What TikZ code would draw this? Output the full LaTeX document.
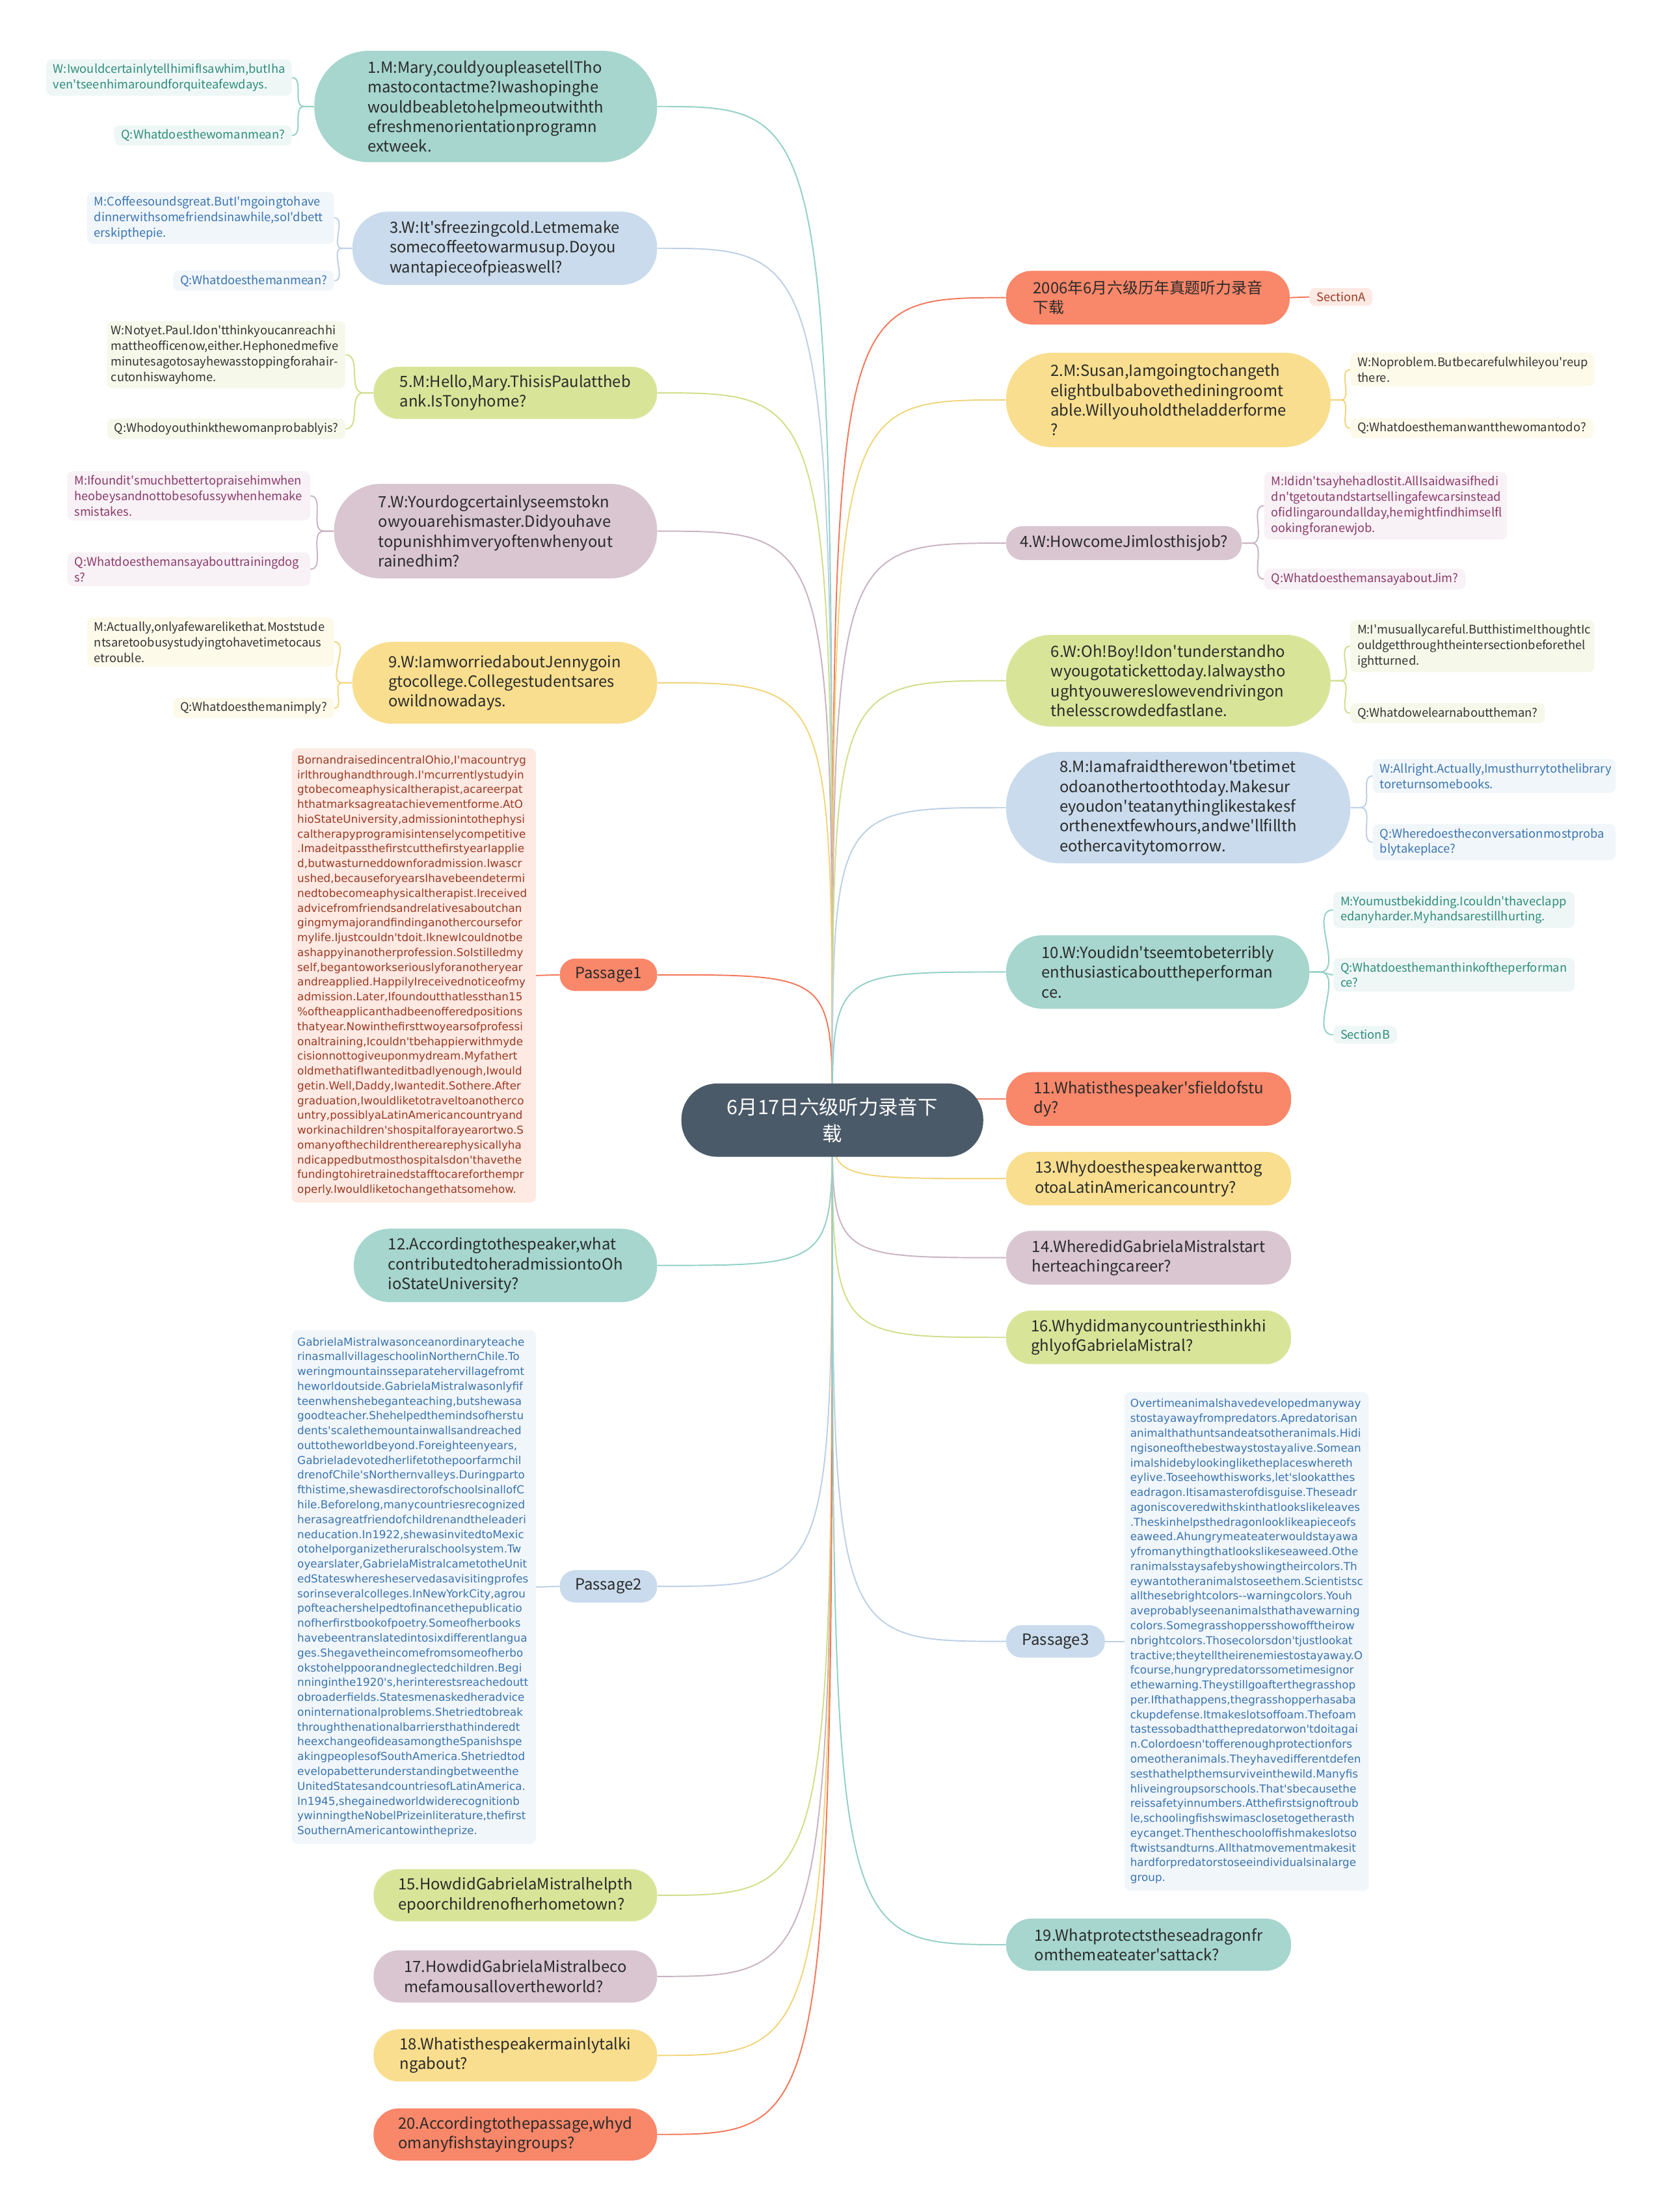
\documentclass[tikz,border=0pt]{standalone}
\usepackage{fontspec}
\setmainfont{Noto Sans CJK SC}[Ligatures=TeXOff]
\newfontfamily\passfont{DejaVu Sans}[Ligatures=TeXOff]
\usetikzlibrary{backgrounds,calc}

% node fills
\definecolor{cTeal}{HTML}{A6D6CE}
\definecolor{cBlue}{HTML}{C9DBEC}
\definecolor{cGreen}{HTML}{D8E599}
\definecolor{cMauve}{HTML}{D9C6D1}
\definecolor{cYellow}{HTML}{F8DE8E}
\definecolor{cOrange}{HTML}{F9876A}
\definecolor{cHub}{HTML}{4B5A68}
\definecolor{txtMain}{HTML}{2A2A2A}
% leaf boxes: text / background
\definecolor{tTeal}{HTML}{2E8B7C}\definecolor{bTeal}{HTML}{EEF7F6}
\definecolor{tBlue}{HTML}{3A74AF}\definecolor{bBlue}{HTML}{F1F6FB}
\definecolor{tGreen}{HTML}{333333}\definecolor{bGreen}{HTML}{F6F9EA}
\definecolor{tMauve}{HTML}{8A3A6B}\definecolor{bMauve}{HTML}{F8F1F5}
\definecolor{tYellow}{HTML}{333333}\definecolor{bYellow}{HTML}{FEFAEA}
\definecolor{tOrange}{HTML}{9B3A22}\definecolor{bOrange}{HTML}{FEE9E3}
% connector colours
\definecolor{lTeal}{HTML}{93D0C6}
\definecolor{lBlue}{HTML}{BCD0E5}
\definecolor{lGreen}{HTML}{CFDF8A}
\definecolor{lMauve}{HTML}{C9B3C1}
\definecolor{lYellow}{HTML}{F1D57A}
\definecolor{lOrange}{HTML}{F4785A}

\begin{document}
\begin{tikzpicture}[
  x=1pt, y=-1pt,
  sz/.style 2 args={minimum width=#1, minimum height=#2},
  hubbox/.style={fill=cHub, text=white, rounded corners=25.5pt, align=center,
                 font=\fontsize{14}{19}\selectfont, inner sep=0pt},
  mainbox/.style={rounded corners=18pt, align=left, text=txtMain,
                  font=\fontsize{11}{14}\selectfont, inner sep=0pt},
  leaf/.style={rounded corners=4pt, align=left, inner xsep=5pt, inner ysep=3pt,
               font=\fontsize{8.4}{11}\selectfont},
  passbox/.style={leaf, inner xsep=4pt, inner ysep=5pt,
                  font=\passfont\fontsize{7.75}{10.5}\selectfont},
  lnk/.style={line width=0.9pt}
]
\useasboundingbox (0,0) rectangle (1180,1568);

% hub
\node[hubbox, sz={214}{52}] (hub) at (590,794) {6月17日六级听力录音下\\载};

% left branch
\node[mainbox, sz={243}{79}, rounded corners=39pt, fill=cTeal, anchor=east] (q1) at (466,75.5)
  {1.M:Mary,couldyoupleasetellTho\\mastocontactme?Iwashopinghe\\wouldbeabletohelpmeoutwithth\\efreshmenorientationprogramn\\extweek.};
\node[mainbox, sz={216}{52}, rounded corners=25.5pt, fill=cBlue, anchor=east] (q3) at (466,176)
  {3.W:It'sfreezingcold.Letmemake\\somecoffeetowarmusup.Doyou\\wantapieceofpieaswell?};
\node[mainbox, sz={201}{37}, fill=cGreen, anchor=east] (q5) at (466,278.5)
  {5.M:Hello,Mary.ThisisPaulattheb\\ank.IsTonyhome?};
\node[mainbox, sz={229}{67}, rounded corners=33pt, fill=cMauve, anchor=east] (q7) at (466,376.5)
  {7.W:Yourdogcertainlyseemstokn\\owyouarehismaster.Didyouhave\\topunishhimveryoftenwhenyout\\rainedhim?};
\node[mainbox, sz={216}{58}, rounded corners=28.5pt, fill=cYellow, anchor=east] (q9) at (466,484)
  {9.W:IamworriedaboutJennygoin\\gtocollege.Collegestudentsares\\owildnowadays.};
\node[mainbox, sz={69}{23}, rounded corners=11pt, fill=cOrange, anchor=east] (pass1) at (466,691) {Passage1};
\node[mainbox, sz={215}{52}, rounded corners=25.5pt, fill=cTeal, anchor=east] (q12) at (466,897)
  {12.Accordingtothespeaker,what\\contributedtoheradmissiontoOh\\ioStateUniversity?};
\node[mainbox, sz={69}{23}, rounded corners=11pt, fill=cBlue, anchor=east] (pass2) at (466,1124.5) {Passage2};
\node[mainbox, sz={201}{37}, fill=cGreen, anchor=east] (q15) at (466,1343.5)
  {15.HowdidGabrielaMistralhelpth\\epoorchildrenofherhometown?};
\node[mainbox, sz={201}{37}, fill=cMauve, anchor=east] (q17) at (466,1401)
  {17.HowdidGabrielaMistralbeco\\mefamousallovertheworld?};
\node[mainbox, sz={201}{37}, fill=cYellow, anchor=east] (q18) at (466,1457)
  {18.Whatisthespeakermainlytalki\\ngabout?};
\node[mainbox, sz={201}{37}, fill=cOrange, anchor=east] (q20) at (466,1513)
  {20.Accordingtothepassage,whyd\\omanyfishstayingroups?};

% right branch
\node[mainbox, sz={201}{38}, fill=cOrange, anchor=west] (q0) at (713,211)
  {2006年6月六级历年真题听力录音\\下载};
\node[mainbox, sz={230}{67}, rounded corners=33pt, fill=cYellow, anchor=west] (q2) at (713,283.5)
  {2.M:Susan,Iamgoingtochangeth\\elightbulbabovethediningroomt\\able.Willyouholdtheladderforme\\?};
\node[mainbox, sz={167}{24}, rounded corners=11.5pt, fill=cMauve, anchor=west] (q4) at (713,385)
  {4.W:HowcomeJimlosthisjob?};
\node[mainbox, sz={230}{65}, rounded corners=32pt, fill=cGreen, anchor=west] (q6) at (713,482.5)
  {6.W:Oh!Boy!Idon'tunderstandho\\wyougotatickettoday.Ialwaystho\\ughtyouwereslowevendrivingon\\thelesscrowdedfastlane.};
\node[mainbox, sz={244}{79}, rounded corners=39pt, fill=cBlue, anchor=west] (q8) at (713,572.5)
  {8.M:Iamafraidtherewon'tbetimet\\odoanothertoothtoday.Makesur\\eyoudon'teatanythinglikestakesf\\orthenextfewhours,andwe'llfillth\\eothercavitytomorrow.};
\node[mainbox, sz={215}{52}, rounded corners=25.5pt, fill=cTeal, anchor=west] (q10) at (713,689)
  {10.W:Youdidn'tseemtobeterribly\\enthusiasticabouttheperforman\\ce.};
\node[mainbox, sz={202}{38}, fill=cOrange, anchor=west] (q11) at (713,779)
  {11.Whatisthespeaker'sfieldofstu\\dy?};
\node[mainbox, sz={202}{38}, fill=cYellow, anchor=west] (q13) at (713,835.5)
  {13.Whydoesthespeakerwanttog\\otoaLatinAmericancountry?};
\node[mainbox, sz={202}{38}, fill=cMauve, anchor=west] (q14) at (713,891.5)
  {14.WheredidGabrielaMistralstart\\herteachingcareer?};
\node[mainbox, sz={202}{38}, fill=cGreen, anchor=west] (q16) at (713,948)
  {16.Whydidmanycountriesthinkhi\\ghlyofGabrielaMistral?};
\node[mainbox, sz={70}{23}, rounded corners=11pt, fill=cBlue, anchor=west] (pass3) at (713,1163.5) {Passage3};
\node[mainbox, sz={202}{37}, fill=cTeal, anchor=west] (q19) at (713,1378.5)
  {19.Whatprotectstheseadragonfr\\omthemeateater'sattack?};

% leaves, left side
\node[leaf, fill=bTeal, text=tTeal, text width=164, anchor=east] (c1a) at (207,55)
  {W:IwouldcertainlytellhimifIsawhim,butIha\\ven'tseenhimaroundforquiteafewdays.};
\node[leaf, fill=bTeal, text=tTeal, anchor=east] (c1b) at (207,96) {Q:Whatdoesthewomanmean?};
\node[leaf, fill=bBlue, text=tBlue, text width=165, anchor=east] (c3a) at (237,154.5)
  {M:Coffeesoundsgreat.ButI'mgoingtohave\\dinnerwithsomefriendsinawhile,soI'dbett\\erskipthepie.};
\node[leaf, fill=bBlue, text=tBlue, anchor=east] (c3b) at (237,199) {Q:Whatdoesthemanmean?};
\node[leaf, fill=bGreen, text=tGreen, text width=163, inner xsep=3pt, anchor=east] (c5a) at (245,251.5)
  {W:Notyet.Paul.Idon'tthinkyoucanreachhi\\mattheofficenow,either.Hephonedmefive\\minutesagotosayhewasstoppingforahair\mbox{-}\\cutonhiswayhome.};
\node[leaf, fill=bGreen, text=tGreen, anchor=east] (c5b) at (245,304) {Q:Whodoyouthinkthewomanprobablyis?};
\node[leaf, fill=bMauve, text=tMauve, text width=162, anchor=east] (c7a) at (220,351.5)
  {M:Ifoundit'smuchbettertopraisehimwhen\\heobeysandnottobesofussywhenhemake\\smistakes.};
\node[leaf, fill=bMauve, text=tMauve, text width=162, anchor=east] (c7b) at (220,403.5)
  {Q:Whatdoesthemansayabouttrainingdog\\s?};
\node[leaf, fill=bYellow, text=tYellow, text width=165, anchor=east] (c9a) at (237,455)
  {M:Actually,onlyafewarelikethat.Moststude\\ntsaretoobusystudyingtohavetimetocaus\\etrouble.};
\node[leaf, fill=bYellow, text=tYellow, anchor=east] (c9b) at (237,502) {Q:Whatdoesthemanimply?};

\node[passbox, fill=bOrange, text=tOrange, text width=165, anchor=east] (p1txt) at (380,691.5)
  {BornandraisedincentralOhio,I'macountryg\\
   irlthroughandthrough.I'mcurrentlystudyin\\
   gtobecomeaphysicaltherapist,acareerpat\\
   hthatmarksagreatachievementforme.AtO\\
   hioStateUniversity,admissionintothephysi\\
   caltherapyprogramisintenselycompetitive\\
   .ImadeitpassthefirstcutthefirstyearIapplie\\
   d,butwasturneddownforadmission.Iwascr\\
   ushed,becauseforyearsIhavebeendetermi\\
   nedtobecomeaphysicaltherapist.Ireceived\\
   advicefromfriendsandrelativesaboutchan\\
   gingmymajorandfindinganothercoursefor\\
   mylife.Ijustcouldn'tdoit.IknewIcouldnotbe\\
   ashappyinanotherprofession.SoIstilledmy\\
   self,begantoworkseriouslyforanotheryear\\
   andreapplied.HappilyIreceivednoticeofmy\\
   admission.Later,Ifoundoutthatlessthan15\\
   \%oftheapplicanthadbeenofferedpositions\\
   thatyear.Nowinthefirsttwoyearsofprofessi\\
   onaltraining,Icouldn'tbehappierwithmyde\\
   cisionnottogiveuponmydream.Myfathert\\
   oldmethatifIwanteditbadlyenough,Iwould\\
   getin.Well,Daddy,Iwantedit.Sothere.After\\
   graduation,Iwouldliketotraveltoanotherco\\
   untry,possiblyaLatinAmericancountryand\\
   workinachildren'shospitalforayearortwo.S\\
   omanyofthechildrentherearephysicallyha\\
   ndicappedbutmosthospitalsdon'thavethe\\
   fundingtohiretrainedstafftocareforthempr\\
   operly.Iwouldliketochangethatsomehow.};

\node[passbox, fill=bBlue, text=tBlue, text width=165, anchor=east] (p2txt) at (380,1125)
  {GabrielaMistralwasonceanordinaryteache\\
   rinasmallvillageschoolinNorthernChile.To\\
   weringmountainsseparatehervillagefromt\\
   heworldoutside.GabrielaMistralwasonlyfif\\
   teenwhenshebeganteaching,butshewasa\\
   goodteacher.Shehelpedthemindsofherstu\\
   dents'scalethemountainwallsandreached\\
   outtotheworldbeyond.Foreighteenyears,\\
   Gabrieladevotedherlifetothepoorfarmchil\\
   drenofChile'sNorthernvalleys.Duringparto\\
   fthistime,shewasdirectorofschoolsinallofC\\
   hile.Beforelong,manycountriesrecognized\\
   herasagreatfriendofchildrenandtheleaderi\\
   neducation.In1922,shewasinvitedtoMexic\\
   otohelporganizetheruralschoolsystem.Tw\\
   oyearslater,GabrielaMistralcametotheUnit\\
   edStateswheresheservedasavisitingprofes\\
   sorinseveralcolleges.InNewYorkCity,agrou\\
   pofteachershelpedtofinancethepublicatio\\
   nofherfirstbookofpoetry.Someofherbooks\\
   havebeentranslatedintosixdifferentlangua\\
   ges.Shegavetheincomefromsomeofherbo\\
   okstohelppoorandneglectedchildren.Begi\\
   nninginthe1920's,herinterestsreachedoutt\\
   obroaderfields.Statesmenaskedheradvice\\
   oninternationalproblems.Shetriedtobreak\\
   throughthenationalbarriersthathinderedt\\
   heexchangeofideasamongtheSpanishspe\\
   akingpeoplesofSouthAmerica.Shetriedtod\\
   evelopabetterunderstandingbetweenthe\\
   UnitedStatesandcountriesofLatinAmerica.\\
   In1945,shegainedworldwiderecognitionb\\
   ywinningtheNobelPrizeinliterature,thefirst\\
   SouthernAmericantowintheprize.};

% leaves, right side
\node[leaf, fill=bOrange, text=tOrange, anchor=west] (secA) at (928,210.5) {SectionA};
\node[leaf, fill=bYellow, text=tYellow, text width=163, anchor=west] (c2a) at (957,262)
  {W:Noproblem.Butbecarefulwhileyou'reup\\there.};
\node[leaf, fill=bYellow, text=tYellow, anchor=west] (c2b) at (957,303.5) {Q:Whatdoesthemanwantthewomantodo?};
\node[leaf, fill=bMauve, text=tMauve, text width=162, anchor=west] (c4a) at (896,358.5)
  {M:Ididn'tsayhehadlostit.AllIsaidwasifhedi\\dn'tgetoutandstartsellingafewcarsinstead\\ofidlingaroundallday,hemightfindhimselfl\\ookingforanewjob.};
\node[leaf, fill=bMauve, text=tMauve, anchor=west] (c4b) at (896,410.5) {Q:WhatdoesthemansayaboutJim?};
\node[leaf, fill=bGreen, text=tGreen, text width=163, anchor=west] (c6a) at (957,458)
  {M:I'musuallycareful.ButthistimeIthoughtIc\\ouldgetthroughtheintersectionbeforethel\\ightturned.};
\node[leaf, fill=bGreen, text=tGreen, anchor=west] (c6b) at (957,505.5) {Q:Whatdowelearnabouttheman?};
\node[leaf, fill=bBlue, text=tBlue, text width=162, anchor=west] (c8a) at (973,550)
  {W:Allright.Actually,Imusthurrytothelibrary\\toreturnsomebooks.};
\node[leaf, fill=bBlue, text=tBlue, text width=162, anchor=west] (c8b) at (973,597)
  {Q:Wheredoestheconversationmostproba\\blytakeplace?};
\node[leaf, fill=bTeal, text=tTeal, text width=161, anchor=west] (c10a) at (945,645)
  {M:Youmustbekidding.Icouldn'thaveclapp\\edanyharder.Myhandsarestillhurting.};
\node[leaf, fill=bTeal, text=tTeal, text width=161, anchor=west] (c10b) at (945,691)
  {Q:Whatdoesthemanthinkoftheperforman\\ce?};
\node[leaf, fill=bTeal, text=tTeal, anchor=west] (secB) at (945,733.5) {SectionB};

\node[passbox, fill=bBlue, text=tBlue, text width=165, anchor=west] (p3txt) at (797,1163.5)
  {Overtimeanimalshavedevelopedmanyway\\
   stostayawayfrompredators.Apredatorisan\\
   animalthathuntsandeatsotheranimals.Hidi\\
   ngisoneofthebestwaystostayalive.Somean\\
   imalshidebylookingliketheplaceswhereth\\
   eylive.Toseehowthisworks,let'slookatthes\\
   eadragon.Itisamasterofdisguise.Theseadr\\
   agoniscoveredwithskinthatlookslikeleaves\\
   .Theskinhelpsthedragonlooklikeapieceofs\\
   eaweed.Ahungrymeateaterwouldstayawa\\
   yfromanythingthatlookslikeseaweed.Othe\\
   ranimalsstaysafebyshowingtheircolors.Th\\
   eywantotheranimalstoseethem.Scientistsc\\
   allthesebrightcolors--warningcolors.Youh\\
   aveprobablyseenanimalsthathavewarning\\
   colors.Somegrasshoppersshowofftheirow\\
   nbrightcolors.Thosecolorsdon'tjustlookat\\
   tractive;theytelltheirenemiestostayaway.O\\
   fcourse,hungrypredatorssometimesignor\\
   ethewarning.Theystillgoafterthegrasshop\\
   per.Ifthathappens,thegrasshopperhasaba\\
   ckupdefense.Itmakeslotsoffoam.Thefoam\\
   tastessobadthatthepredatorwon'tdoitagai\\
   n.Colordoesn'tofferenoughprotectionfors\\
   omeotheranimals.Theyhavedifferentdefen\\
   sesthathelpthemsurviveinthewild.Manyfis\\
   hliveingroupsorschools.That'sbecausethe\\
   reissafetyinnumbers.Atthefirstsignoftroub\\
   le,schoolingfishswimasclosetogetherasth\\
   eycanget.Thentheschooloffishmakeslotso\\
   ftwistsandturns.Allthatmovementmakesit\\
   hardforpredatorstoseeindividualsinalarge\\
   group.};

% connectors go under the boxes
\begin{scope}[on background layer]
  \fill[white] (0,0) rectangle (1180,1568);
  % hub to the topics: leave the hub vertically, meet the box horizontally
  \foreach \nd/\col in {q1/lTeal, q3/lBlue, q5/lGreen, q7/lMauve, q9/lYellow,
                        pass1/lOrange, q12/lTeal, pass2/lBlue, q15/lGreen,
                        q17/lMauve, q18/lYellow, q20/lOrange}
    \draw[lnk, draw=\col] (hub.center) .. controls (hub |- \nd.east) .. (\nd.east);
  \foreach \nd/\col in {q0/lOrange, q2/lYellow, q4/lMauve, q6/lGreen, q8/lBlue,
                        q10/lTeal, q11/lOrange, q13/lYellow, q14/lMauve,
                        q16/lGreen, pass3/lBlue, q19/lTeal}
    \draw[lnk, draw=\col] (hub.center) .. controls (hub |- \nd.west) .. (\nd.west);
  % topics to their leaves
  \foreach \nd/\kid/\col in {q1/c1a/lTeal, q1/c1b/lTeal, q3/c3a/lBlue, q3/c3b/lBlue,
                             q5/c5a/lGreen, q5/c5b/lGreen, q7/c7a/lMauve, q7/c7b/lMauve,
                             q9/c9a/lYellow, q9/c9b/lYellow}
    \draw[lnk, draw=\col] (\nd.west) -- ++(-7,0) to[out=180,in=0] (\kid.east);
  \foreach \nd/\kid/\col in {q2/c2a/lYellow, q2/c2b/lYellow, q4/c4a/lMauve, q4/c4b/lMauve,
                             q6/c6a/lGreen, q6/c6b/lGreen, q8/c8a/lBlue, q8/c8b/lBlue,
                             q10/c10a/lTeal, q10/c10b/lTeal, q10/secB/lTeal}
    \draw[lnk, draw=\col] (\nd.east) -- ++(7,0) to[out=0,in=180] (\kid.west);
  \draw[lnk, draw=lOrange] (q0.east) -- (secA.west);
  \draw[lnk, draw=lOrange] (pass1.west) -- (p1txt.east);
  \draw[lnk, draw=lBlue] (pass2.west) -- (p2txt.east);
  \draw[lnk, draw=lBlue] (pass3.east) -- (p3txt.west);
\end{scope}
\end{tikzpicture}
\end{document}
